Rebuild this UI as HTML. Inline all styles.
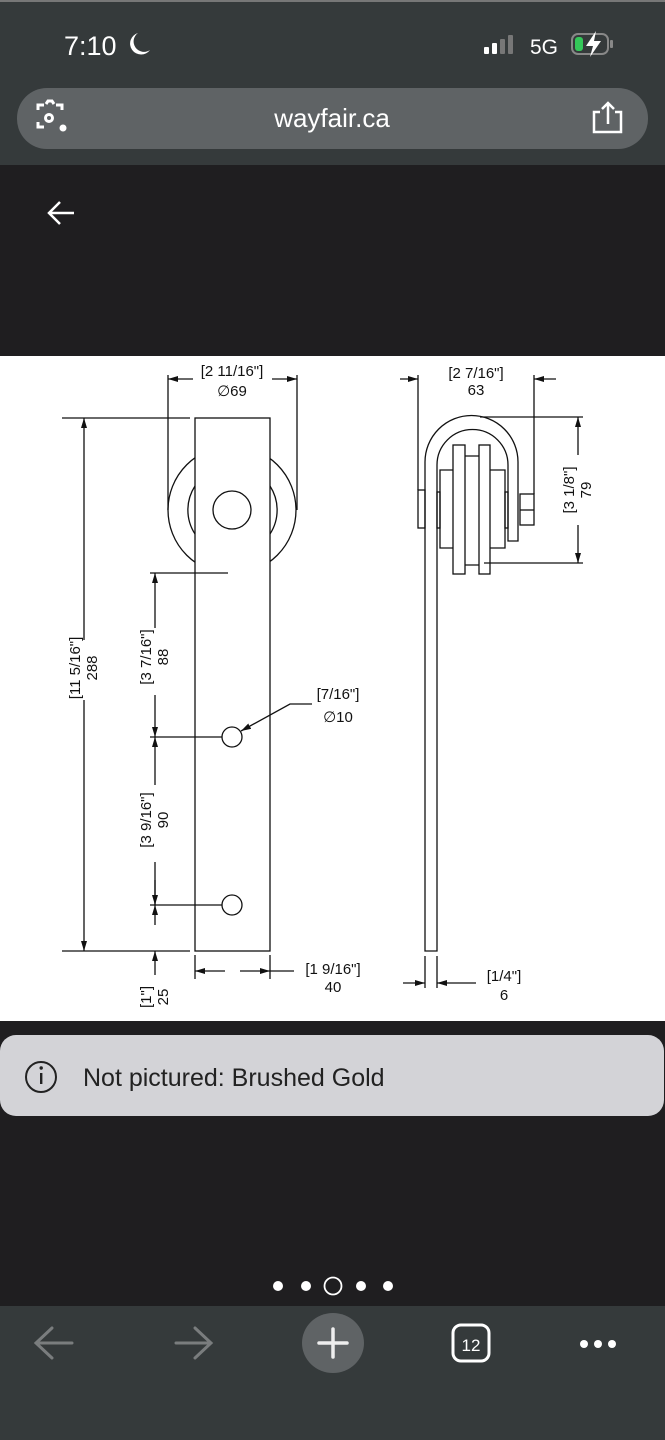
<!DOCTYPE html>
<html><head><meta charset="utf-8"><style>
html,body{margin:0;padding:0;width:665px;height:1440px;overflow:hidden;background:#1f1e20;font-family:"Liberation Sans",sans-serif}
svg{display:block}
</style></head><body>
<svg width="665" height="1440" viewBox="0 0 665 1440" xmlns="http://www.w3.org/2000/svg">
<defs>
<marker id="a" viewBox="0 0 10 6" refX="10" refY="3" markerWidth="10" markerHeight="6" orient="auto-start-reverse" markerUnits="userSpaceOnUse"><path d="M0,0 L10,3 L0,6z" fill="#111"/></marker>
</defs>
<rect x="0" y="0" width="665" height="165" fill="#353a3b"/>
<rect x="0" y="0" width="665" height="2" fill="#777"/>
<text x="64" y="55" font-size="27" fill="#fff">7:10</text>
<path d="M138 33 a11 11 0 1 0 12 17 a9 9 0 0 1 -12 -17z" fill="#fff"/>
<rect x="484" y="47" width="5" height="7" rx="1" fill="#fff"/>
<rect x="492" y="43" width="5" height="11" rx="1" fill="#fff"/>
<rect x="500" y="39" width="5" height="15" rx="1" fill="#777"/>
<rect x="508" y="35" width="5" height="19" rx="1" fill="#777"/>
<text x="530" y="54" font-size="21" fill="#fff">5G</text>
<rect x="572" y="34" width="36" height="20" rx="6" fill="none" stroke="#888" stroke-width="2"/>
<rect x="575" y="37" width="8" height="14" rx="3" fill="#34c759"/>
<path d="M596 31 L586 46 L593 46 L590 57 L601 41 L594 41z" fill="#fff"/>
<rect x="610" y="40" width="3" height="8" rx="1" fill="#888"/>
<rect x="17" y="88" width="631" height="61" rx="30" fill="#5f6365"/>
<text x="332" y="127" font-size="26" fill="#fff" text-anchor="middle">wayfair.ca</text>
<g fill="none" stroke="#fff" stroke-width="3"><path d="M38 110v-5h6M62 110v-5h-6M38 122v5h6"/><circle cx="49" cy="118" r="3.5"/><path d="M46 104l2-3h4l2 3"/></g>
<circle cx="63" cy="128" r="3.5" fill="#fff"/>
<g fill="none" stroke="#fff" stroke-width="2.5"><path d="M600 112h-6v20h27v-20h-6M608 124v-20M602 109l6-6 6 6"/></g>
<path d="M74 213H49M60 202L49 213L60 224" fill="none" stroke="#fff" stroke-width="2.5"/>
<rect x="0" y="356" width="665" height="665" fill="#fff"/>
<g fill="none" stroke="#111" stroke-width="1.3">
<circle cx="232" cy="510" r="64"/>
<path d="M195 486 A44 44 0 0 0 195 534 M270 486 A44 44 0 0 1 270 534"/>
<rect x="195" y="418" width="75" height="533" fill="#fff"/>
<circle cx="232" cy="510" r="19"/>
<circle cx="232" cy="737" r="10"/>
<circle cx="232" cy="905" r="10"/>
<path d="M168 375V510 M297 375V510"/>
<path d="M193 379H168" marker-end="url(#a)"/><path d="M272 379H297" marker-end="url(#a)"/>
<path d="M62 418H190 M62 951H190"/>
<path d="M84 640V418" marker-end="url(#a)"/><path d="M84 700V951" marker-end="url(#a)"/>
<path d="M150 573H228 M150 737H222 M150 905H222"/>
<path d="M155 628V573" marker-end="url(#a)"/><path d="M155 695V737" marker-end="url(#a)"/>
<path d="M155 785V737" marker-end="url(#a)"/><path d="M155 862V905" marker-end="url(#a)"/>
<path d="M155 880V905" /><path d="M155 975V951" marker-end="url(#a)"/><path d="M155 925V905" marker-end="url(#a)"/>
<path d="M312 704H290L241 731" marker-end="url(#a)"/>
<path d="M195 955V979 M270 955V979"/>
<path d="M225 971H195" marker-end="url(#a)"/><path d="M240 971H270" marker-end="url(#a)"/>
<path d="M270 971H294"/>
<path d="M418 375V490 M534 375V494"/>
<path d="M400 379H418" marker-end="url(#a)"/><path d="M556 379H534" marker-end="url(#a)"/>
<path d="M425 951V462 A46.5 46.5 0 0 1 518 462V541H508V465 A35.5 35.5 0 0 0 437 465V951Z"/>
<rect x="418" y="490" width="7" height="38"/>
<rect x="437" y="492" width="3" height="36"/>
<path d="M453 470 h-13 v78 h13 M490 470 h15 v78 h-15"/>
<rect x="453" y="445" width="12" height="129"/>
<rect x="479" y="445" width="11" height="129"/>
<path d="M465 456H479M465 565H479"/>
<rect x="505" y="492" width="3" height="36"/>
<rect x="520" y="494" width="14" height="31"/><path d="M520 510H534"/>
<path d="M480 417H583 M484 563H583"/>
<path d="M578 455V417" marker-end="url(#a)"/><path d="M578 525V563" marker-end="url(#a)"/>
<path d="M425 956V988 M437 956V988"/>
<path d="M403 983H425" marker-end="url(#a)"/><path d="M476 983H437" marker-end="url(#a)"/>
</g>
<g font-size="15" fill="#111" text-anchor="middle">
<text x="232" y="376">[2 11/16"]</text><text x="232" y="396">∅69</text>
<text x="476" y="378">[2 7/16"]</text><text x="476" y="395">63</text>
<text x="338" y="699">[7/16"]</text><text x="338" y="722">∅10</text>
<text x="333" y="974">[1 9/16"]</text><text x="333" y="992">40</text>
<text x="504" y="981">[1/4"]</text><text x="504" y="1000">6</text>
<text transform="translate(80,668) rotate(-90)">[11 5/16"]</text><text transform="translate(97,668) rotate(-90)">288</text>
<text transform="translate(151,657) rotate(-90)">[3 7/16"]</text><text transform="translate(168,657) rotate(-90)">88</text>
<text transform="translate(151,820) rotate(-90)">[3 9/16"]</text><text transform="translate(168,820) rotate(-90)">90</text>
<text transform="translate(151,997) rotate(-90)">[1"]</text><text transform="translate(168,997) rotate(-90)">25</text>
<text transform="translate(574,490) rotate(-90)">[3 1/8"]</text><text transform="translate(591,490) rotate(-90)">79</text>
</g>
<rect x="0" y="1035" width="664" height="81" rx="16" fill="#d3d3d7"/>
<circle cx="41" cy="1077" r="15" fill="none" stroke="#222" stroke-width="2"/>
<rect x="40" y="1073" width="2.4" height="11" fill="#222"/><circle cx="41.2" cy="1068" r="1.7" fill="#222"/>
<text x="83" y="1086" font-size="25" fill="#222">Not pictured: Brushed Gold</text>
<circle cx="278" cy="1286" r="5" fill="#fff"/><circle cx="306" cy="1286" r="5" fill="#fff"/>
<circle cx="333" cy="1286" r="8.5" fill="none" stroke="#fff" stroke-width="1.8"/>
<circle cx="361" cy="1286" r="5" fill="#fff"/><circle cx="388" cy="1286" r="5" fill="#fff"/>
<rect x="0" y="1306" width="665" height="134" fill="#353a3b"/>
<g fill="none" stroke="#7a7d7e" stroke-width="3" stroke-linecap="round"><path d="M72 1343H36M52 1328L36 1343L52 1358M176 1343H211M195 1328L211 1343L195 1358"/></g>
<ellipse cx="333" cy="1343" rx="31" ry="30" fill="#5f6365"/>
<path d="M333 1329V1357M319 1343H347" stroke="#eee" stroke-width="3.5" stroke-linecap="round"/>
<rect x="453" y="1325" width="36" height="36" rx="8" fill="none" stroke="#fff" stroke-width="3"/>
<text x="471" y="1351" font-size="17" fill="#fff" text-anchor="middle">12</text>
<circle cx="584" cy="1344" r="4" fill="#fff"/><circle cx="598" cy="1344" r="4" fill="#fff"/><circle cx="612" cy="1344" r="4" fill="#fff"/>
</svg>
</body></html>
